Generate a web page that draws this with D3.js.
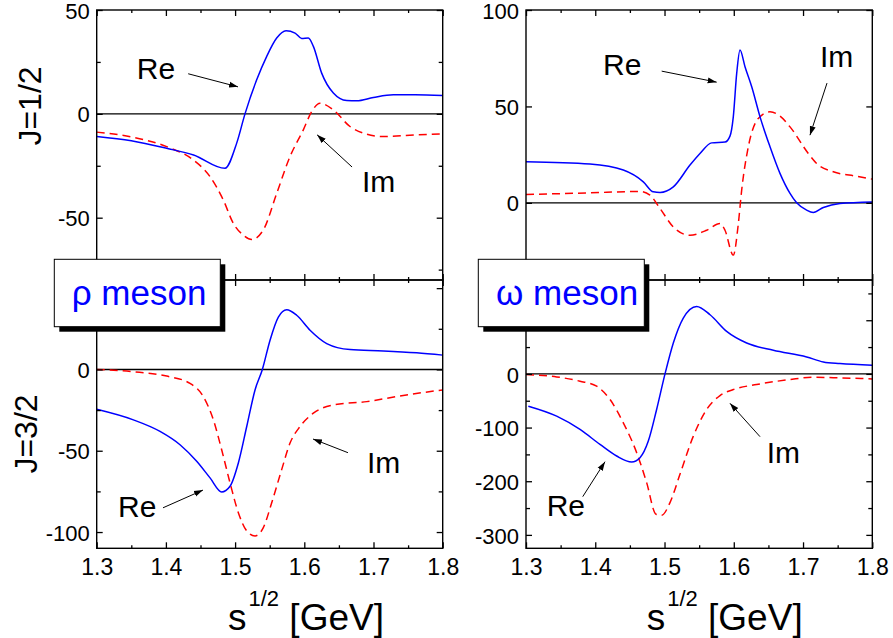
<!DOCTYPE html>
<html><head><meta charset="utf-8">
<script src="https://cdn.jsdelivr.net/npm/d3@7"></script>
<style>
body{margin:0;background:#fff}
svg{display:block}
text{font-family:"Liberation Sans",Arial,Helvetica,sans-serif}
</style>
</head><body>
<svg id="c" width="893" height="638"></svg>
<script>
// ---------------- data ----------------
const xDomain = [1.3, 1.8];
const xTicks = [1.3, 1.4, 1.5, 1.6, 1.7, 1.8];
const xMinorTicks = [1.35, 1.45, 1.55, 1.65, 1.75];

// J=1/2, rho meson
const rhoHalfRe = [[1.3,-10.9],[1.35,-13.0],[1.401,-16.6],[1.44,-19.8],[1.4854,-26.2],[1.5023,-14.1],[1.5143,0],[1.5312,16.4],[1.5457,27.7],[1.5601,36.5],[1.5736,40.0],[1.5866,38.9],[1.5962,36.3],[1.6058,36.5],[1.6131,32.5],[1.6251,19.6],[1.642,10],[1.6613,6.4],[1.6757,6.3],[1.6998,7.9],[1.7287,9.2],[1.76,9.2],[1.8,8.8]];
const rhoHalfIm = [[1.3,-8.8],[1.3529,-11.3],[1.4012,-15.8],[1.4396,-22.2],[1.4637,-30.2],[1.483,-41.5],[1.4974,-52.7],[1.5119,-58.4],[1.524,-60.5],[1.5408,-55.9],[1.5601,-38.3],[1.5793,-20.6],[1.5986,-7.7],[1.6107,1.1],[1.6227,5.1],[1.642,1.9],[1.666,-6.1],[1.6902,-9.8],[1.7142,-10.9],[1.7624,-10.1],[1.8,-9.6]];
// J=1/2, omega meson
const omegaHalfRe = [[1.3,21.3],[1.3924,20.1],[1.4405,17.0],[1.4694,10.9],[1.4838,5.7],[1.4935,5.4],[1.5127,8.3],[1.5368,19.6],[1.5512,25.6],[1.5681,31.1],[1.5873,31.5],[1.5945,34.6],[1.5993,44.6],[1.6042,67.1],[1.609,79.3],[1.6162,70.6],[1.6259,60.2],[1.6379,44.6],[1.6523,29.1],[1.6667,15.3],[1.6812,4.9],[1.6908,0],[1.7052,-3.8],[1.7148,-5.0],[1.7293,-2.4],[1.7533,-0.3],[1.8,0.5]];
const omegaHalfIm = [[1.3,4.3],[1.3924,5.2],[1.4646,5.9],[1.479,4.0],[1.4935,-2.9],[1.5127,-12.5],[1.5368,-16.8],[1.5609,-14.2],[1.5801,-10.7],[1.5873,-14.2],[1.5993,-27.1],[1.6066,-10.7],[1.6114,6.6],[1.621,29.1],[1.6354,43.8],[1.6523,47.2],[1.6667,45.0],[1.6812,39.4],[1.7076,25.6],[1.7196,20.4],[1.7437,16.1],[1.7774,13.8],[1.8,12.3]];
// J=3/2, rho meson
const rhoThreeRe = [[1.3,-24.5],[1.353,-31],[1.3915,-38.1],[1.4204,-46.3],[1.4445,-56.5],[1.4638,-66.7],[1.4806,-75.3],[1.4927,-71.8],[1.5047,-57.5],[1.5168,-35.1],[1.5288,-12.6],[1.5394,0],[1.5505,18],[1.5625,32.2],[1.5746,36.7],[1.589,33.3],[1.6083,24.1],[1.6324,15.9],[1.6661,12.2],[1.7143,11.4],[1.7624,10.2],[1.8,8.8]];
const rhoThreeIm = [[1.3,0],[1.353,-1.4],[1.4012,-4.1],[1.4349,-8.6],[1.4541,-16.7],[1.4686,-31],[1.4806,-49.4],[1.4927,-69.8],[1.5047,-88.1],[1.5168,-99.3],[1.5288,-102.4],[1.5408,-97.3],[1.5529,-82],[1.5673,-61.6],[1.5794,-45.3],[1.5938,-35.1],[1.6131,-26.9],[1.642,-21.8],[1.6902,-19.8],[1.7383,-16.3],[1.8,-12.6]];
// J=3/2, omega meson
const omegaThreeRe = [[1.3034,-60.1],[1.3443,-78.7],[1.378,-103.5],[1.4068,-131.4],[1.4309,-153],[1.4526,-164.2],[1.4646,-156.1],[1.4766,-125.2],[1.4886,-66.3],[1.5007,0],[1.5127,57.6],[1.5271,104.1],[1.5464,125.8],[1.5657,110.3],[1.5897,79.3],[1.6186,57.6],[1.6571,44],[1.7052,31.6],[1.7293,22.3],[1.7533,19.2],[1.8,16.1]];
const omegaThreeIm = [[1.3,-1.2],[1.3443,-5.6],[1.378,-13.6],[1.402,-22.9],[1.4213,-47.7],[1.4405,-91.1],[1.4598,-146.8],[1.4742,-202.6],[1.4877,-261.5],[1.4959,-263.3],[1.5079,-239.8],[1.5223,-187.1],[1.5416,-115.9],[1.5608,-66.3],[1.5801,-40.3],[1.5993,-29.1],[1.633,-19.8],[1.6811,-10.5],[1.7148,-6.2],[1.7533,-7.4],[1.8,-9.3]];

// y-axis ticks per panel (labels that the reference shows)
const yTicksRhoHalf = [-75,-50,-25,0,25,50];
const yLabelsRhoHalf = [-50,0,50];
const yTicksOmegaHalf = [0,50,100];
const yLabelsOmegaHalf = [0,50,100];
const yTicksRhoThree = [-100,-75,-50,-25,0,25,50];
const yLabelsRhoThree = [-100,-50,0];
const yTicksOmegaThree = [-300,-250,-200,-150,-100,-50,0,50,100,150];
const yLabelsOmegaThree = [-300,-200,-100,0];

const yTitles = ["J=1/2", "J=3/2"];
const mesonLabels = ["\u03C1 meson", "\u03C9 meson"];

// ---------------- layout ----------------
const svg = d3.select("#c");
const colL = [96.7, 442.7], colR = [526, 872.3];
const rowT = [10, 280], rowB = [280, 548.3];

const panels = [
  {id:"tl", xr:colL, yr:rowT, ydom:[-80,50],  re:rhoHalfRe,   im:rhoHalfIm,   ticks:yTicksRhoHalf,   labels:yLabelsRhoHalf,
   minor:[-75,-25,25], xLabels:false,
   ann:{re:[1.358,16.9], reA:[[1.4322,19.3],[1.5042,13.0]], im:[1.6834,-37.6], imA:[[1.669,-25.6],[1.6185,-10.1]]}},
  {id:"tr", xr:colR, yr:rowT, ydom:[-40,100], re:omegaHalfRe, im:omegaHalfIm, ticks:yTicksOmegaHalf, labels:yLabelsOmegaHalf,
   minor:[], xLabels:false,
   ann:{re:[1.4112,66.3], reA:[[1.4959,68.3],[1.5753,62.6]], im:[1.7245,70.4], imA:[[1.7346,62.1],[1.71,35.1]]}},
  {id:"bl", xr:colL, yr:rowB, ydom:[-110,55], re:rhoThreeRe,  im:rhoThreeIm,  ticks:yTicksRhoThree,  labels:yLabelsRhoThree,
   minor:[-75,-25,25], xLabels:true,
   ann:{re:[1.3308,-90.8], reA:[[1.3958,-85.1],[1.4536,-74.2]], im:[1.6906,-63.7], imA:[[1.6631,-51.2],[1.6126,-42.8]]}},
  {id:"br", xr:colR, yr:rowB, ydom:[-325,175], re:omegaThreeRe, im:omegaThreeIm, ticks:yTicksOmegaThree, labels:yLabelsOmegaThree,
   minor:[-250,-150,-50,50,150], xLabels:true,
   ann:{re:[1.3299,-264.8], reA:[[1.3819,-228.8],[1.4141,-163.6]], im:[1.6475,-165.5], imA:[[1.6379,-117],[1.5945,-54.8]]}}
];

const defs = svg.append("defs");
defs.append("marker").attr("id","arr").attr("markerUnits","userSpaceOnUse")
  .attr("markerWidth",10).attr("markerHeight",8).attr("refX",9).attr("refY",4).attr("orient","auto")
  .append("path").attr("d","M0,1 L9,4 L0,7 Z").attr("fill","#000");

panels.forEach(p => {
  const x = d3.scaleLinear().domain(xDomain).range(p.xr);
  const y = d3.scaleLinear().domain(p.ydom).range([p.yr[1], p.yr[0]]);
  const g = svg.append("g");
  defs.append("clipPath").attr("id","clip-"+p.id).append("rect")
    .attr("x",p.xr[0]).attr("y",p.yr[0]).attr("width",p.xr[1]-p.xr[0]).attr("height",p.yr[1]-p.yr[0]);

  // zero line
  g.append("line").attr("x1",p.xr[0]).attr("x2",p.xr[1]).attr("y1",y(0)).attr("y2",y(0))
    .attr("stroke","#000").attr("stroke-width",1.4);

  const line = d3.line().x(d=>x(d[0])).y(d=>y(d[1])).curve(d3.curveMonotoneX);
  const cg = g.append("g").attr("clip-path","url(#clip-"+p.id+")");
  cg.append("path").datum(p.im).attr("d",line).attr("fill","none")
    .attr("stroke","#ff0000").attr("stroke-width",1.5).attr("stroke-dasharray","8,5");
  cg.append("path").datum(p.re).attr("d",line).attr("fill","none")
    .attr("stroke","#0000ff").attr("stroke-width",1.5);

  // axes
  const majorY = p.ticks.filter(t => !p.minor.includes(t));
  const styleAxis = sel => { sel.select(".domain").remove(); sel.selectAll("line").attr("stroke","#000").attr("stroke-width",1.3); };

  // left
  g.append("g").attr("transform",`translate(${p.xr[0]},0)`)
    .call(d3.axisLeft(y).tickValues(majorY).tickSize(-6).tickPadding(7)
      .tickFormat(d => p.labels.includes(d) ? String(d) : ""))
    .call(styleAxis)
    .call(s => s.selectAll("text").attr("font-size",22).attr("dy","0.37em").attr("fill","#000").attr("font-family","Liberation Sans, Arial, sans-serif"));
  g.append("g").attr("transform",`translate(${p.xr[0]},0)`)
    .call(d3.axisLeft(y).tickValues(p.minor).tickSize(-4).tickFormat(""))
    .call(styleAxis);
  // right
  g.append("g").attr("transform",`translate(${p.xr[1]},0)`)
    .call(d3.axisRight(y).tickValues(majorY).tickSize(-6).tickFormat(""))
    .call(styleAxis);
  g.append("g").attr("transform",`translate(${p.xr[1]},0)`)
    .call(d3.axisRight(y).tickValues(p.minor).tickSize(-4).tickFormat(""))
    .call(styleAxis);
  // bottom
  g.append("g").attr("transform",`translate(0,${p.yr[1]})`)
    .call(d3.axisBottom(x).tickValues(xTicks).tickSize(-6).tickPadding(10)
      .tickFormat(p.xLabels ? d3.format(".1f") : ""))
    .call(styleAxis)
    .call(s => s.selectAll("text").attr("font-size",23).attr("fill","#000").attr("font-family","Liberation Sans, Arial, sans-serif"));
  g.append("g").attr("transform",`translate(0,${p.yr[1]})`)
    .call(d3.axisBottom(x).tickValues(xMinorTicks).tickSize(-3).tickFormat(""))
    .call(styleAxis);
  // top
  g.append("g").attr("transform",`translate(0,${p.yr[0]})`)
    .call(d3.axisTop(x).tickValues(xTicks).tickSize(-6).tickFormat(""))
    .call(styleAxis);
  g.append("g").attr("transform",`translate(0,${p.yr[0]})`)
    .call(d3.axisTop(x).tickValues(xMinorTicks).tickSize(-3).tickFormat(""))
    .call(styleAxis);

  // frame
  g.append("rect").attr("x",p.xr[0]).attr("y",p.yr[0]).attr("width",p.xr[1]-p.xr[0]).attr("height",p.yr[1]-p.yr[0])
    .attr("fill","none").attr("stroke","#000").attr("stroke-width",1.4);

  // annotations
  const a = p.ann;
  g.append("text").attr("x",x(a.re[0])).attr("y",y(a.re[1])).attr("font-size",30).text("Re");
  g.append("text").attr("x",x(a.im[0])).attr("y",y(a.im[1])).attr("font-size",30).text("Im");
  [a.reA, a.imA].forEach(ar => {
    g.append("line").attr("x1",x(ar[0][0])).attr("y1",y(ar[0][1])).attr("x2",x(ar[1][0])).attr("y2",y(ar[1][1]))
      .attr("stroke","#000").attr("stroke-width",1).attr("marker-end","url(#arr)");
  });
});

// y titles
[[41,106],[37,434]].forEach((pos,i) => {
  svg.append("text").attr("transform",`translate(${pos[0]},${pos[1]}) rotate(-90)`)
    .attr("text-anchor","middle").attr("font-size",32).text(yTitles[i]);
});

// x titles
[228, 646.7].forEach(x0 => {
  const t = svg.append("text").attr("x",x0).attr("y",630).attr("font-size",37);
  t.append("tspan").text("s");
  t.append("tspan").attr("dx",2).attr("dy",-24).attr("font-size",22).text("1/2");
  t.append("tspan").attr("dy",24).attr("font-size",37).text(" [GeV]");
});

// meson boxes
[[54.3,71.7],[478.3,496]].forEach((b,i) => {
  const w = 166, h = 67.4, y0 = 259.3;
  svg.append("rect").attr("x",b[0]+5).attr("y",y0+5).attr("width",w).attr("height",h).attr("fill","#000");
  svg.append("rect").attr("x",b[0]).attr("y",y0).attr("width",w).attr("height",h)
    .attr("fill","#fff").attr("stroke","#000").attr("stroke-width",1);
  svg.append("text").attr("x",b[1]).attr("y",304.5).attr("font-size",35).attr("fill","#0000ff").text(mesonLabels[i]);
});
</script>
</body></html>
